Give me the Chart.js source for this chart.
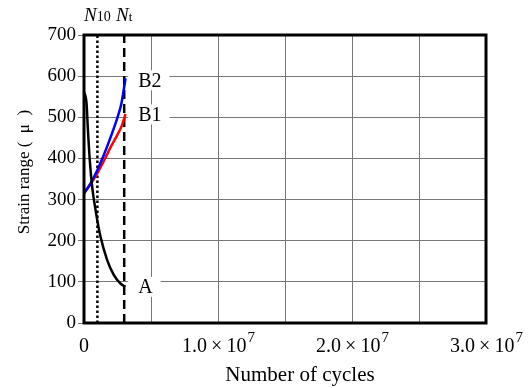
<!DOCTYPE html>
<html>
<head>
<meta charset="utf-8">
<script src="https://cdn.jsdelivr.net/npm/chart.js@4/dist/chart.umd.min.js"></script>
<style>
  body { margin: 0; background: #fff; }
  #wrap { width: 532px; height: 388px; }
</style>
</head>
<body>
<div id="wrap"><canvas id="myChart" width="532" height="388"></canvas></div>
<script>
// curve A (black)
const cyclesA = [0, 0.19e6, 0.28e6, 0.43e6, 0.61e6, 0.86e6, 1.23e6, 1.73e6, 2.22e6, 2.72e6, 3.09e6];
const strainA = [562, 534, 477, 396, 331, 275, 210, 153, 117, 96, 88];

// curve B1 (red)
const cyclesB1 = [0, 0.5e6, 1.0e6, 1.5e6, 2.0e6, 2.5e6, 2.8e6, 3.1e6];
const strainB1 = [315, 338, 364, 395, 428, 458, 478, 508];

// curve B2 (blue)
const cyclesB2 = [0, 0.5e6, 1.0e6, 1.5e6, 2.0e6, 2.5e6, 2.8e6, 3.1e6];
const strainB2 = [315, 340, 372, 410, 453, 500, 535, 595];

// N10 and Nt lines
const n10 = 1e6;
const nt = 3e6;

// axis ticks
const xTickValues = [0, 1e7, 2e7, 3e7];
const xTickBase = ['0', '1.0\u2009×\u200910', '2.0\u2009×\u200910', '3.0\u2009×\u200910'];
const xTickExp = ['', '7', '7', '7'];

// curve end labels
const curveLabels = ['B2', 'B1', 'A'];
const curveLabelY = [590, 507, 88];

const serif = '"Liberation Serif", "Times New Roman", serif';

function toPoints(xs, ys) {
    return xs.map((x, i) => ({ x: x, y: ys[i] }));
}

// extra drawing: label boxes, border, axis titles, x tick labels
const decoPlugin = {
    id: 'deco',
    beforeDatasetsDraw(chart) {
        const ctx = chart.ctx;
        const xs = chart.scales.x;
        const ys = chart.scales.y;
        ctx.save();
        ctx.font = '20px ' + serif;
        ctx.textBaseline = 'middle';
        const lx = xs.getPixelForValue(nt) + 14;
        curveLabels.forEach((t, i) => {
            const py = ys.getPixelForValue(curveLabelY[i]);
            const w = ctx.measureText(t).width;
            ctx.fillStyle = '#fff';
            ctx.fillRect(lx - 10, py - 10, w + 18, 20);
            ctx.fillStyle = '#000';
            ctx.fillText(t, lx, py + 1);
        });
        ctx.restore();
    },
    afterDatasetsDraw(chart) {
        const ctx = chart.ctx;
        const a = chart.chartArea;
        const xs = chart.scales.x;
        ctx.save();
        // plot border
        ctx.strokeStyle = '#000';
        ctx.lineWidth = 3;
        ctx.strokeRect(a.left, a.top, a.right - a.left, a.bottom - a.top);

        // x tick labels with exponent
        ctx.fillStyle = '#000';
        ctx.textBaseline = 'alphabetic';
        xTickValues.forEach((v, i) => {
            const px = xs.getPixelForValue(v);
            ctx.font = '20px ' + serif;
            const wb = ctx.measureText(xTickBase[i]).width;
            ctx.font = '15px ' + serif;
            const we = ctx.measureText(xTickExp[i]).width;
            const sx = px - (wb + we) / 2;
            ctx.font = '20px ' + serif;
            ctx.textAlign = 'left';
            ctx.fillText(xTickBase[i], sx, 352);
            if (xTickExp[i]) {
                ctx.font = '15px ' + serif;
                ctx.fillText(xTickExp[i], sx + wb + 1, 342);
            }
        });

        // x axis title
        ctx.font = '21px ' + serif;
        ctx.textAlign = 'center';
        ctx.fillText('Number of cycles', 300, 381);

        // y axis title
        ctx.font = '17px ' + serif;
        ctx.translate(25, 172);
        ctx.rotate(-Math.PI / 2);
        ctx.textBaseline = 'middle';
        ctx.fillText('Strain range (\u2002μ\u2002)', 0, 0);
        ctx.setTransform(1, 0, 0, 1, 0, 0);

        // N10 / Nt labels above the lines
        ctx.textAlign = 'left';
        ctx.textBaseline = 'alphabetic';
        const drawN = (value, sub, subSize) => {
            ctx.font = 'italic 19px ' + serif;
            const wN = ctx.measureText('N').width;
            ctx.font = subSize + 'px ' + serif;
            const wS = ctx.measureText(sub).width;
            const sx = xs.getPixelForValue(value) - (wN + wS) / 2;
            ctx.font = 'italic 19px ' + serif;
            ctx.fillText('N', sx, 21);
            ctx.font = subSize + 'px ' + serif;
            ctx.fillText(sub, sx + wN, 21);
        };
        drawN(n10, '10', 14);
        drawN(nt, 't', 13);
        ctx.restore();
    }
};

const ctx = document.getElementById('myChart').getContext('2d');

const myChart = new Chart(ctx, {
    type: 'scatter',
    data: {
        datasets: [
            {
                label: 'A',
                data: toPoints(cyclesA, strainA),
                borderColor: '#000',
                borderWidth: 2.5,
                showLine: true,
                pointRadius: 0,
                cubicInterpolationMode: 'monotone',
            },
            {
                label: 'B2',
                data: toPoints(cyclesB2, strainB2),
                borderColor: '#0000ff',
                borderWidth: 2.5,
                showLine: true,
                pointRadius: 0,
                cubicInterpolationMode: 'monotone',
            },
            {
                label: 'B1',
                data: toPoints(cyclesB1, strainB1),
                borderColor: '#ff0000',
                borderWidth: 2.5,
                showLine: true,
                pointRadius: 0,
                cubicInterpolationMode: 'monotone',
            },
            {
                label: 'Nt',
                data: [{ x: nt, y: 0 }, { x: nt, y: 700 }],
                borderColor: '#000',
                borderWidth: 2.5,
                borderDash: [9, 5],
                showLine: true,
                pointRadius: 0,
            },
            {
                label: 'N10',
                data: [{ x: n10, y: 0 }, { x: n10, y: 700 }],
                borderColor: '#000',
                borderWidth: 2.5,
                borderDash: [2.5, 2.5],
                showLine: true,
                pointRadius: 0,
            },
        ],
    },
    options: {
        responsive: false,
        animation: false,
        layout: { padding: { top: 35, right: 46, left: 0, bottom: 0 } },
        plugins: {
            legend: { display: false },
            tooltip: { enabled: false },
        },
        scales: {
            x: {
                type: 'linear',
                min: 0,
                max: 3e7,
                ticks: { display: false, stepSize: 5e6 },
                grid: { color: '#777', lineWidth: 1, drawTicks: false },
                border: { display: false },
                afterFit(scale) { scale.height = 65; },
            },
            y: {
                min: 0,
                max: 700,
                ticks: {
                    stepSize: 100,
                    color: '#000',
                    padding: 2,
                    font: { family: serif, size: 19 },
                },
                grid: { color: '#777', lineWidth: 1, tickLength: 6 },
                border: { display: false },
                afterFit(scale) { scale.width = 84; },
            },
        },
    },
    plugins: [decoPlugin],
});
</script>
</body>
</html>
